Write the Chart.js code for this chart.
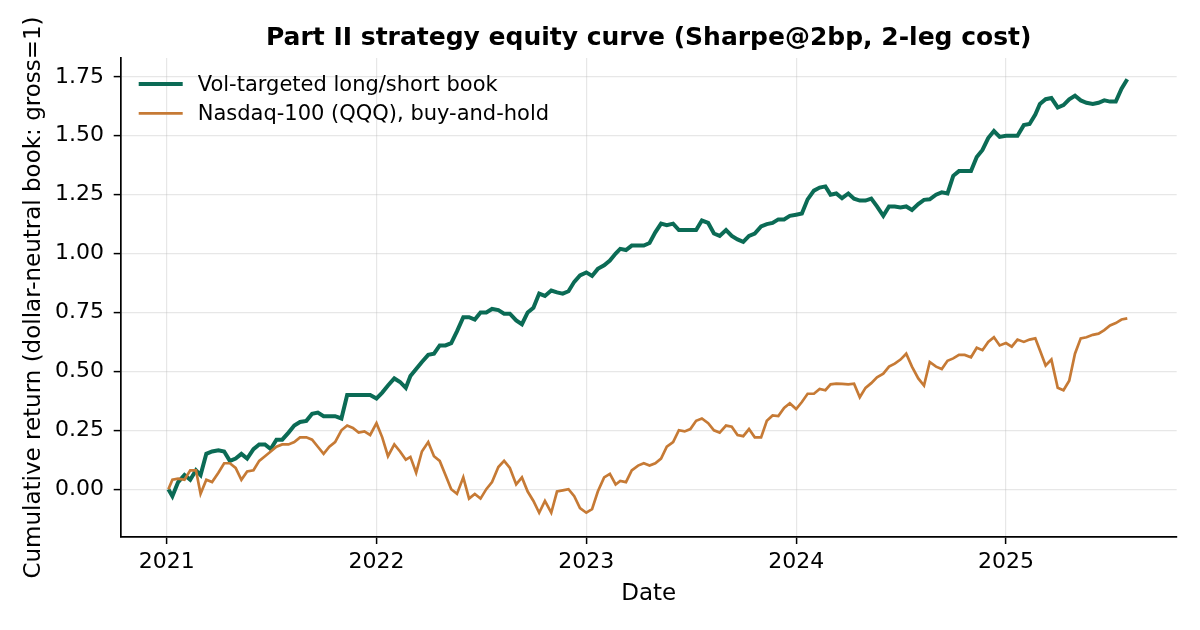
<!DOCTYPE html>
<html>
<head>
<meta charset="utf-8">
<title>Part II strategy equity curve</title>
<script src="https://cdn.jsdelivr.net/npm/chart.js@4.4.1/dist/chart.umd.min.js"></script>
<style>
  html, body { margin: 0; padding: 0; background: #ffffff; }
  #chart { display: block; }
</style>
</head>
<body>
<canvas id="chart" width="1200" height="630"></canvas>
<script>
// sampled dates (1st / 11th / 21st of each month)
const dates = [
  '2021-01-04','2021-01-11','2021-01-21', '2021-02-01','2021-02-11','2021-02-21',
  '2021-03-01','2021-03-11','2021-03-21', '2021-04-01','2021-04-11','2021-04-21',
  '2021-05-01','2021-05-11','2021-05-21', '2021-06-01','2021-06-11','2021-06-21',
  '2021-07-01','2021-07-11','2021-07-21', '2021-08-01','2021-08-11','2021-08-21',
  '2021-09-01','2021-09-11','2021-09-21', '2021-10-01','2021-10-11','2021-10-21',
  '2021-11-01','2021-11-11','2021-11-21', '2021-12-01','2021-12-11','2021-12-21',
  '2022-01-01','2022-01-11','2022-01-21', '2022-02-01','2022-02-11','2022-02-21',
  '2022-03-01','2022-03-11','2022-03-21', '2022-04-01','2022-04-11','2022-04-21',
  '2022-05-01','2022-05-11','2022-05-21', '2022-06-01','2022-06-11','2022-06-21',
  '2022-07-01','2022-07-11','2022-07-21', '2022-08-01','2022-08-11','2022-08-21',
  '2022-09-01','2022-09-11','2022-09-21', '2022-10-01','2022-10-11','2022-10-21',
  '2022-11-01','2022-11-11','2022-11-21', '2022-12-01','2022-12-11','2022-12-21',
  '2023-01-01','2023-01-11','2023-01-21', '2023-02-01','2023-02-11','2023-02-21',
  '2023-03-01','2023-03-11','2023-03-21', '2023-04-01','2023-04-11','2023-04-21',
  '2023-05-01','2023-05-11','2023-05-21', '2023-06-01','2023-06-11','2023-06-21',
  '2023-07-01','2023-07-11','2023-07-21', '2023-08-01','2023-08-11','2023-08-21',
  '2023-09-01','2023-09-11','2023-09-21', '2023-10-01','2023-10-11','2023-10-21',
  '2023-11-01','2023-11-11','2023-11-21', '2023-12-01','2023-12-11','2023-12-21',
  '2024-01-01','2024-01-11','2024-01-21', '2024-02-01','2024-02-11','2024-02-21',
  '2024-03-01','2024-03-11','2024-03-21', '2024-04-01','2024-04-11','2024-04-21',
  '2024-05-01','2024-05-11','2024-05-21', '2024-06-01','2024-06-11','2024-06-21',
  '2024-07-01','2024-07-11','2024-07-21', '2024-08-01','2024-08-11','2024-08-21',
  '2024-09-01','2024-09-11','2024-09-21', '2024-10-01','2024-10-11','2024-10-21',
  '2024-11-01','2024-11-11','2024-11-21', '2024-12-01','2024-12-11','2024-12-21',
  '2025-01-01','2025-01-11','2025-01-21', '2025-02-01','2025-02-11','2025-02-21',
  '2025-03-01','2025-03-11','2025-03-21', '2025-04-01','2025-04-11','2025-04-21',
  '2025-05-01','2025-05-11','2025-05-21', '2025-06-01','2025-06-11','2025-06-21',
  '2025-07-01','2025-07-11','2025-07-21','2025-07-31'
];

// vol-targeted long/short book, cumulative return
const strategyValues = [
  0.00, -0.03, 0.03,   0.06, 0.04, 0.08,    0.06, 0.15, 0.16,    0.165, 0.16, 0.12,
  0.13, 0.15, 0.13,    0.17, 0.19, 0.19,    0.17, 0.21, 0.21,    0.24, 0.27, 0.285,
  0.29, 0.32, 0.325,   0.31, 0.31, 0.31,    0.30, 0.40, 0.40,    0.40, 0.40, 0.40,
  0.385, 0.41, 0.44,   0.47, 0.455, 0.43,   0.48, 0.51, 0.54,    0.57, 0.575, 0.61,
  0.61, 0.62, 0.67,    0.73, 0.73, 0.72,    0.75, 0.75, 0.765,   0.76, 0.745, 0.745,
  0.716, 0.70, 0.75,   0.77, 0.83, 0.82,    0.843, 0.835, 0.83,  0.84, 0.88, 0.907,
  0.92, 0.905, 0.935,  0.95, 0.97, 1.00,    1.02, 1.015, 1.034,  1.034, 1.034, 1.045,
  1.09, 1.127, 1.12,   1.127, 1.10, 1.10,   1.10, 1.10, 1.14,    1.13, 1.085, 1.075,
  1.10, 1.075, 1.06,   1.05, 1.075, 1.085,  1.115, 1.125, 1.13,  1.145, 1.145, 1.16,
  1.165, 1.17, 1.23,   1.267, 1.28, 1.285,  1.25, 1.255, 1.235,  1.255, 1.233, 1.225,
  1.225, 1.233, 1.20,  1.16, 1.20, 1.20,    1.196, 1.20, 1.185,  1.21, 1.228, 1.23,
  1.25, 1.26, 1.255,   1.33, 1.35, 1.35,    1.35, 1.41, 1.44,    1.49, 1.52, 1.495,
  1.50, 1.50, 1.50,    1.545, 1.55, 1.59,   1.635, 1.655, 1.66,  1.62, 1.63, 1.655,
  1.67, 1.65, 1.64,    1.635, 1.64, 1.65,   1.645, 1.645, 1.70, 1.74
];

// QQQ buy-and-hold, cumulative return
const qqqValues = [
  0.00, 0.04, 0.045,   0.04, 0.08, 0.08,    -0.02, 0.04, 0.03,   0.07, 0.11, 0.11,
  0.09, 0.04, 0.075,   0.08, 0.12, 0.14,    0.16, 0.18, 0.19,    0.19, 0.20, 0.22,
  0.22, 0.21, 0.18,    0.15, 0.18, 0.20,    0.25, 0.27, 0.26,    0.24, 0.245, 0.23,
  0.28, 0.22, 0.14,    0.19, 0.16, 0.125,   0.137, 0.07, 0.16,   0.20, 0.14, 0.12,
  0.06, 0.00, -0.02,   0.05, -0.04, -0.02,  -0.04, 0.00, 0.03,   0.094, 0.12, 0.09,
  0.02, 0.05, -0.01,   -0.05, -0.10, -0.05, -0.10, -0.01, -0.005, 0.00, -0.03, -0.08,
  -0.10, -0.085, -0.01, 0.05, 0.065, 0.02,  0.035, 0.03, 0.08,   0.10, 0.11, 0.10,
  0.11, 0.13, 0.18,    0.20, 0.25, 0.245,   0.255, 0.29, 0.30,   0.28, 0.25, 0.24,
  0.27, 0.265, 0.23,   0.225, 0.255, 0.22,  0.22, 0.29, 0.313,   0.31, 0.345, 0.365,
  0.34, 0.37, 0.405,   0.405, 0.425, 0.42,  0.445, 0.448, 0.447, 0.445, 0.448, 0.39,
  0.43, 0.45, 0.475,   0.49, 0.52, 0.533,   0.55, 0.575, 0.52,   0.47, 0.44, 0.54,
  0.52, 0.51, 0.545,   0.555, 0.57, 0.57,   0.56, 0.60, 0.59,    0.625, 0.645, 0.61,
  0.62, 0.605, 0.635,  0.625, 0.635, 0.64,  0.59, 0.525, 0.55,   0.43, 0.42, 0.46,
  0.575, 0.64, 0.645,  0.655, 0.66, 0.675,  0.695, 0.705, 0.72, 0.725
];

const xTicks = [2021, 2022, 2023, 2024, 2025];
const yTicks = [0, 0.25, 0.5, 0.75, 1.0, 1.25, 1.5, 1.75];

const FONT = 'DejaVu Sans';

function toYear(s) {
  const d = new Date(s + 'T00:00:00Z');
  const y = d.getUTCFullYear();
  const start = Date.UTC(y, 0, 1), end = Date.UTC(y + 1, 0, 1);
  return y + (d.getTime() - start) / (end - start);
}
const xs = dates.map(toYear);
const strategyPts = strategyValues.map((v, i) => ({x: xs[i], y: v}));
const qqqPts = qqqValues.map((v, i) => ({x: xs[i], y: v}));

// legend drawn inside the axes, matplotlib style
const insideLegend = {
  id: 'insideLegend',
  afterDraw(chart) {
    const {ctx, chartArea} = chart;
    const sets = chart.data.datasets;
    ctx.save();
    ctx.font = '21px "' + FONT + '"';
    ctx.textBaseline = 'middle';
    ctx.textAlign = 'left';
    sets.forEach((ds, i) => {
      const y = chartArea.top + 26 + i * 29.3;
      ctx.strokeStyle = ds.borderColor;
      ctx.lineWidth = ds.borderWidth;
      ctx.beginPath();
      ctx.moveTo(chartArea.left + 18, y);
      ctx.lineTo(chartArea.left + 62, y);
      ctx.stroke();
      ctx.fillStyle = '#000';
      ctx.fillText(ds.label, chartArea.left + 77, y + 1.5);
    });
    ctx.restore();
  }
};

const ctx = document.getElementById('chart').getContext('2d');
new Chart(ctx, {
  type: 'line',
  data: {
    datasets: [{
      label: 'Vol-targeted long/short book',
      data: strategyPts,
      borderColor: '#0b6b55',
      borderWidth: 4,
      pointRadius: 0,
      tension: 0,
      order: 1
    }, {
      label: 'Nasdaq-100 (QQQ), buy-and-hold',
      data: qqqPts,
      borderColor: '#c67a35',
      borderWidth: 2.7,
      pointRadius: 0,
      tension: 0,
      order: 0
    }]
  },
  options: {
    responsive: false,
    animation: false,
    devicePixelRatio: 1,
    layout: { padding: { left: 0, right: 23.3, top: 0, bottom: 0 } },
    plugins: {
      legend: { display: false },
      tooltip: { enabled: false },
      title: {
        display: true,
        fullSize: false,
        text: 'Part II strategy equity curve (Sharpe@2bp, 2-leg cost)',
        color: '#000',
        font: { family: FONT, size: 25, weight: 'bold', lineHeight: 1.2 },
        padding: { top: 23.5, bottom: 4.5 }
      }
    },
    scales: {
      x: {
        type: 'linear',
        min: 2020.781,
        max: 2025.8136,
        afterBuildTicks: s => { s.ticks = xTicks.map(v => ({value: v})); },
        afterFit: s => { s.height = 93; },
        ticks: {
          color: '#000',
          font: { family: FONT, size: 22 },
          padding: 5.5,
          maxRotation: 0,
          callback: v => String(v)
        },
        grid: { color: 'rgba(176,176,176,0.3)', lineWidth: 1.2, tickColor: '#000', tickLength: 7, tickWidth: 1.5 },
        border: { display: true, color: '#000', width: 1.7 },
        title: {
          display: true,
          text: 'Date',
          color: '#000',
          font: { family: FONT, size: 23, lineHeight: 1.2 },
          padding: { top: 0, bottom: 22 }
        }
      },
      y: {
        type: 'linear',
        min: -0.203,
        max: 1.83,
        afterBuildTicks: s => { s.ticks = yTicks.map(v => ({value: v})); },
        afterFit: s => { s.width = 120.7; },
        ticks: {
          color: '#000',
          font: { family: FONT, size: 22 },
          padding: 9.7,
          callback: v => Number(v).toFixed(2)
        },
        grid: { color: 'rgba(176,176,176,0.3)', lineWidth: 1.2, tickColor: '#000', tickLength: 7, tickWidth: 1.5 },
        border: { display: true, color: '#000', width: 1.7 },
        title: {
          display: true,
          text: 'Cumulative return (dollar-neutral book: gross=1)',
          color: '#000',
          font: { family: FONT, size: 23, lineHeight: 1.2 },
          padding: { top: 20, bottom: 0 }
        }
      }
    }
  },
  plugins: [insideLegend]
});
</script>
</body>
</html>
